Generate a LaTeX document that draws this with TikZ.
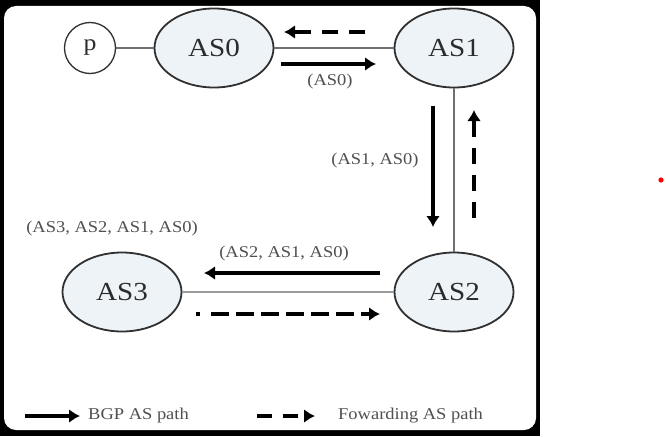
\documentclass[tikz,border=0pt]{standalone}
\usepackage{fontspec}
\setmainfont{Liberation Serif}
\usetikzlibrary{shapes.geometric,arrows.meta}
\definecolor{nodefill}{HTML}{EEF3F8}
\definecolor{edgec}{HTML}{303030}
\definecolor{txtc}{HTML}{2B2B2B}
\definecolor{lblc}{HTML}{505050}
\definecolor{linkc}{HTML}{707070}
\newcommand\wtext[1]{\scalebox{1.12}[1]{#1}}
\begin{document}
\begin{tikzpicture}[x=1pt,y=-1pt,
  asnode/.style={ellipse,draw=edgec,line width=1.8pt,fill=nodefill,minimum width=119pt,minimum height=79pt,inner sep=0pt,text=txtc,font=\fontsize{26}{29}\selectfont},
  pnode/.style={circle,draw=edgec,line width=1.3pt,fill=white,minimum size=51pt,inner sep=0pt,text=txtc,font=\fontsize{23}{25}\selectfont},
  link/.style={draw=linkc,line width=1.1pt},
  wlink/.style={draw=linkc!70,line width=2.5pt},
  bgp/.style={line width=4pt,-{Latex[length=11pt,width=14pt]}},
  fwd/.style={bgp,dash pattern=on 16pt off 11pt},
  lbltext/.style={text=lblc,font=\fontsize{16.5}{18}\selectfont,inner sep=0pt}
]
\useasboundingbox (0,0) rectangle (666,436);
\fill[black] (0,0) rectangle (540,436);
\fill[white] (540,0) rectangle (666,436);
\fill[white,rounded corners=12pt] (4,6) rectangle (536,430);
\fill[red] (661,180) circle (2.6pt);

\node[pnode] (p) at (90,48) {\wtext{p}};
\node[asnode] (as0) at (214,48) {\wtext{AS0}};
\node[asnode] (as1) at (454,48) {\wtext{AS1}};
\node[asnode] (as2) at (454,292) {\wtext{AS2}};
\node[asnode] (as3) at (122,292) {\wtext{AS3}};

\draw[link] (p) -- (as0);
\draw[link] (as0) -- (as1);
\draw[link] (as1) -- (as2);
\draw[wlink] (as3) -- (as2);

\coordinate (f1s) at (365,32); \coordinate (f1e) at (284,32);
\coordinate (b1s) at (281,64); \coordinate (b1e) at (376,64);
\coordinate (b2s) at (433,106); \coordinate (b2e) at (433,227);
\coordinate (f2s) at (474,218); \coordinate (f2e) at (474,110);
\coordinate (b3s) at (380,273); \coordinate (b3e) at (204,273);
\coordinate (f3s) at (196,314); \coordinate (f3e) at (380,314);
\coordinate (lbs) at (25,416); \coordinate (lbe) at (80,416);
\coordinate (lfs) at (257,416); \coordinate (lfe) at (315,416);

\draw[fwd] (f1s) -- (f1e);
\draw[bgp] (b1s) -- (b1e);
\draw[bgp] (b2s) -- (b2e);
\draw[fwd] (f2s) -- (f2e);
\draw[bgp] (b3s) -- (b3e);
\draw[bgp,dash pattern=on 4pt off 11pt on 18pt off 7pt on 18pt off 7pt on 18pt off 7pt on 18pt off 7pt on 18pt off 7pt on 18pt off 7pt on 40pt off 0pt] (f3s) -- (f3e);
\draw[bgp] (lbs) -- (lbe);
\draw[bgp,dash pattern=on 15pt off 11pt] (lfs) -- (lfe);

\node[lbltext] (l0) at (330,82) {\wtext{(AS0)}};
\node[lbltext] (l1) at (375,161) {\wtext{(AS1, AS0)}};
\node[lbltext] (l2) at (284,254) {\wtext{(AS2, AS1, AS0)}};
\node[lbltext] (l3) at (112,229) {\wtext{(AS3, AS2, AS1, AS0)}};
\node[lbltext,anchor=west] (lg1) at (88,416) {\wtext{BGP AS path}};
\node[lbltext,anchor=west] (lg2) at (338,416) {\wtext{Fowarding AS path}};
\end{tikzpicture}
\end{document}
